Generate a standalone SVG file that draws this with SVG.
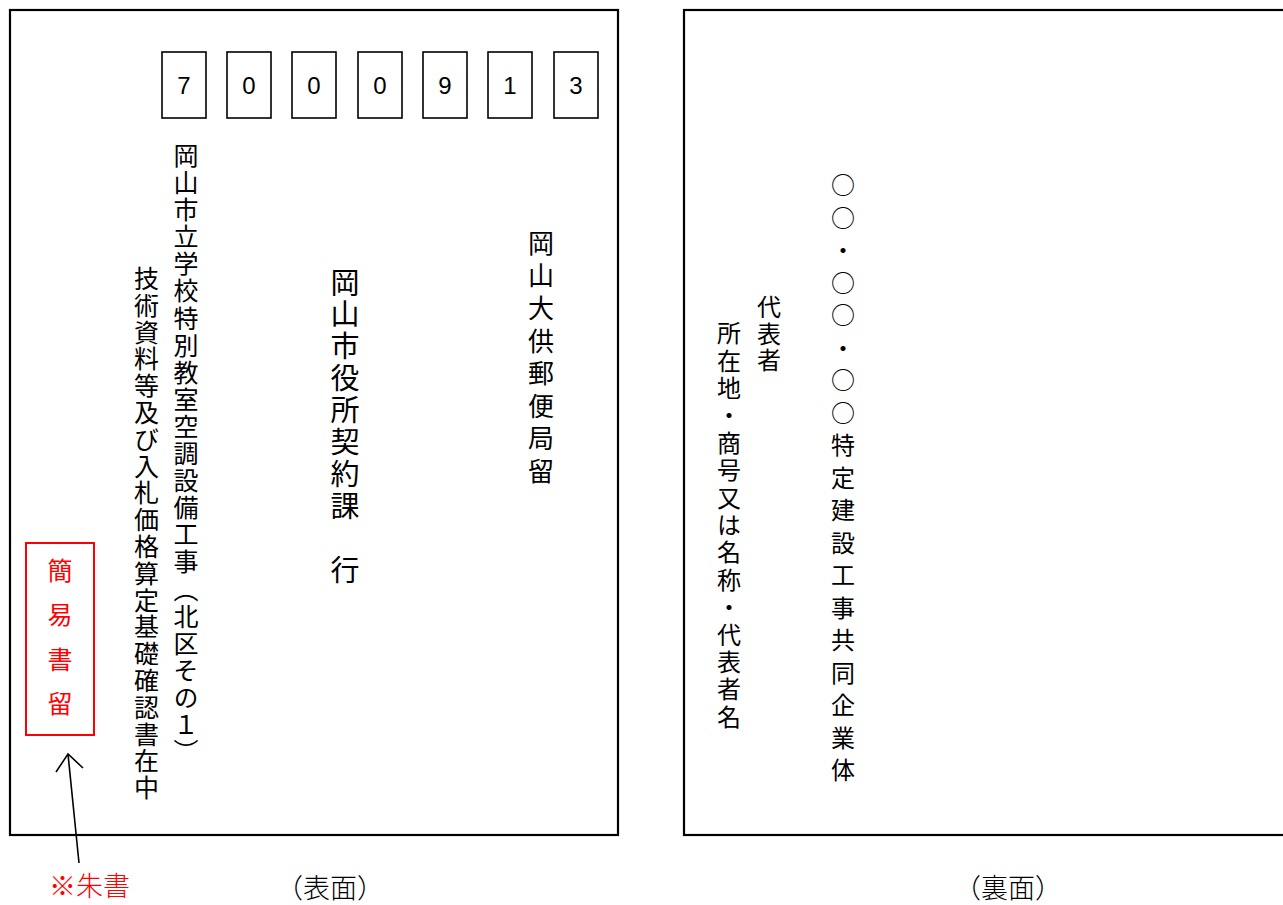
<svg xmlns="http://www.w3.org/2000/svg" width="1283" height="905" viewBox="0 0 1283 905">
<style>
.env{fill:#ffffff;stroke:#000000;stroke-width:2.2}
.zip{fill:#ffffff;stroke:#000000;stroke-width:1.6}
.digit{font-family:"Liberation Sans","Noto Sans CJK JP",sans-serif;font-size:24px;fill:#000000;text-anchor:middle}
.v{font-family:"Noto Sans CJK JP",sans-serif;fill:#000000;writing-mode:vertical-rl;text-orientation:mixed}
.red{fill:#ff0000}
.lbl{font-family:"Liberation Serif","Noto Sans CJK JP",serif;font-size:27px;font-weight:300}
</style>
<rect width="1283" height="905" fill="#ffffff"/>
<g id="front">
<rect class="env" x="10" y="10" width="608" height="825"/>
</g>
<g id="back">
<rect class="env" x="684" y="10" width="640" height="825"/>
</g>
<g id="zipcode">
<rect class="zip" x="162" y="52" width="44" height="66"/><text class="digit" x="184" y="94">7</text>
<rect class="zip" x="227" y="52" width="44" height="66"/><text class="digit" x="249" y="94">0</text>
<rect class="zip" x="292" y="52" width="44" height="66"/><text class="digit" x="314" y="94">0</text>
<rect class="zip" x="358" y="52" width="44" height="66"/><text class="digit" x="380" y="94">0</text>
<rect class="zip" x="423" y="52" width="44" height="66"/><text class="digit" x="445" y="94">9</text>
<rect class="zip" x="488" y="52" width="44" height="66"/><text class="digit" x="510" y="94">1</text>
<rect class="zip" x="554" y="52" width="44" height="66"/><text class="digit" x="576" y="94">3</text>
</g>
<g id="post-office">
<text class="v" x="541" y="230" style="font-size:26px;letter-spacing:6.6px">岡山大供郵便局留</text>
</g>
<g id="addressee">
<text class="v" x="345" y="268" style="font-size:29px;letter-spacing:2.9px">岡山市役所契約課　行</text>
</g>
<g id="project-name">
<text class="v" x="186" y="143" style="font-size:25px;letter-spacing:2.1px">岡山市立学校特別教室空調設備工事（北区その１）</text>
</g>
<g id="enclosure">
<text class="v" x="146.5" y="266" style="font-size:25px;letter-spacing:1.8px">技術資料等及び入札価格算定基礎確認書在中</text>
</g>
<g id="registered-mail">
<rect x="26" y="543" width="68" height="192" fill="none" stroke="#ff0000" stroke-width="2"/>
<text class="v red" x="60" y="558" style="font-size:25px;letter-spacing:19.3px">簡易書留</text>
</g>
<g id="note">
<text class="lbl red" x="49" y="896">※朱書</text>
</g>
<g id="connectors">
<line x1="79" y1="863" x2="68" y2="754" stroke="#000000" stroke-width="1.6"/>
<polyline points="56,772 68,754 83,768" fill="none" stroke="#000000" stroke-width="1.6"/>
</g>
<g id="jv-name">
<text class="v" x="843" y="173" style="font-size:24px;letter-spacing:8.5px">○○・○○・○○特定建設工事共同企業体</text>
</g>
<g id="representative">
<text class="v" x="769" y="295" style="font-size:24px;letter-spacing:2.5px">代表者</text>
</g>
<g id="address">
<text class="v" x="729" y="321" style="font-size:24px;letter-spacing:3.4px">所在地・商号又は名称・代表者名</text>
</g>
<g id="captions">
<text class="lbl" x="330" y="898" text-anchor="middle">（表面）</text>
<text class="lbl" x="1008" y="898" text-anchor="middle">（裏面）</text>
</g>
</svg>
